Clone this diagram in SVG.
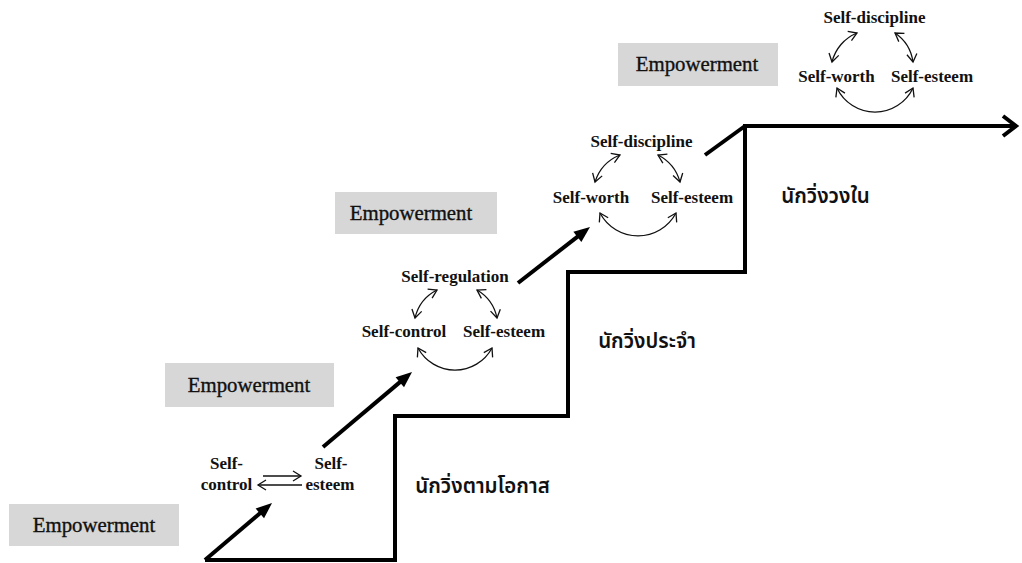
<svg xmlns="http://www.w3.org/2000/svg" width="1022" height="563" viewBox="0 0 1022 563">
<style>
.box{fill:#d7d7d7}
.emp{font-family:"Liberation Serif","Times New Roman",serif;font-size:20.8px;fill:#111;stroke:#111;stroke-width:0.35;text-anchor:middle}
.lbl{font-family:"Liberation Serif","Times New Roman",serif;font-size:17px;font-weight:bold;fill:#111;text-anchor:middle}
.thai{font-family:"Noto Sans Thai","Noto Sans Thai UI","Tahoma","Noto Sans",sans-serif;font-size:20.5px;font-weight:600;fill:#111;text-anchor:middle}
.stair{fill:none;stroke:#000;stroke-width:4;stroke-linejoin:miter}
.diag{fill:none;stroke:#000;stroke-width:4}
.cyc{fill:none;stroke:#111;stroke-width:1.3;marker-start:url(#chev);marker-end:url(#chev)}
.pair{fill:none;stroke:#111;stroke-width:1.3;marker-end:url(#chev)}
</style>
<defs>
<marker id="chev" viewBox="-10 -7 12 14" markerWidth="12" markerHeight="14" refX="0" refY="0" orient="auto-start-reverse" markerUnits="userSpaceOnUse">
<path d="M-8,-5 L0,0 L-8,5" fill="none" stroke="#111" stroke-width="1.3"/>
</marker>
<marker id="head" viewBox="-8 -8 20 16" markerWidth="20" markerHeight="16" refX="0" refY="0" orient="auto" markerUnits="userSpaceOnUse">
<path d="M-6,-6.5 L10,0 L-6,6.5 Z" fill="#000"/>
</marker>
</defs>
<rect width="1022" height="563" fill="#fff"/>

<g id="connectors">
<path class="stair" d="M205,560 L395,560 L395,416 L568,416 L568,272 L745,272 L745,126 L1015,126"/>
<path class="stair" d="M1003,116 L1016,126 L1003,136"/>
<line class="diag" x1="205" y1="560" x2="264.4" y2="509.5" marker-end="url(#head)"/>
<line class="diag" x1="323" y1="447" x2="404.4" y2="378.4" marker-end="url(#head)"/>
<line class="diag" x1="518" y1="283" x2="582.1" y2="233.1" marker-end="url(#head)"/>
<line class="diag" x1="705" y1="155" x2="745" y2="126"/>
<line class="pair" x1="263" y1="476" x2="301" y2="476"/>
<line class="pair" x1="302" y1="485" x2="258" y2="485"/>
<path class="cyc" d="M437,290 A42,42 0 0,0 415,318"/>
<path class="cyc" d="M477,290 A42,42 0 0,1 497,318"/>
<path class="cyc" d="M418,348 A42,42 0 0,0 492,348"/>
<path class="cyc" d="M620,155 A43,43 0 0,0 595,182"/>
<path class="cyc" d="M658,155 A43,43 0 0,1 680,182"/>
<path class="cyc" d="M600,213 A43,43 0 0,0 676,213"/>
<path class="cyc" d="M857,33 A42,42 0 0,0 832,62"/>
<path class="cyc" d="M895,33 A42,42 0 0,1 913,62"/>
<path class="cyc" d="M837,88 A42,42 0 0,0 913,88"/>
</g>

<g id="emp1"><rect class="box" x="9" y="504" width="170" height="42"/><text class="emp" x="94" y="532">Empowerment</text></g>
<g id="emp2"><rect class="box" x="165" y="363" width="169" height="44"/><text class="emp" x="249" y="392">Empowerment</text></g>
<g id="emp3"><rect class="box" x="335" y="192" width="162" height="42"/><text class="emp" x="411" y="220">Empowerment</text></g>
<g id="emp4"><rect class="box" x="618" y="43" width="160" height="43"/><text class="emp" x="697" y="71">Empowerment</text></g>

<g id="c1-control"><text class="lbl" x="226.5" y="469">Self-</text><text class="lbl" x="226.5" y="490">control</text></g>
<g id="c1-esteem"><text class="lbl" x="331" y="469">Self-</text><text class="lbl" x="330" y="490">esteem</text></g>

<g id="c2-regulation"><text class="lbl" x="455" y="282">Self-regulation</text></g>
<g id="c2-control"><text class="lbl" x="404" y="337">Self-control</text></g>
<g id="c2-esteem"><text class="lbl" x="504" y="337">Self-esteem</text></g>

<g id="c3-discipline"><text class="lbl" x="641.5" y="147">Self-discipline</text></g>
<g id="c3-worth"><text class="lbl" x="591" y="203">Self-worth</text></g>
<g id="c3-esteem"><text class="lbl" x="692" y="203">Self-esteem</text></g>

<g id="c4-discipline"><text class="lbl" x="874.5" y="23">Self-discipline</text></g>
<g id="c4-worth"><text class="lbl" x="836.5" y="82">Self-worth</text></g>
<g id="c4-esteem"><text class="lbl" x="932" y="82">Self-esteem</text></g>

<g id="level1"><text class="thai" x="482.5" y="493">นักวิ่งตามโอกาส</text></g>
<g id="level2"><text class="thai" x="647" y="348">นักวิ่งประจำ</text></g>
<g id="level3"><text class="thai" x="825.5" y="203">นักวิ่งวงใน</text></g>
</svg>
